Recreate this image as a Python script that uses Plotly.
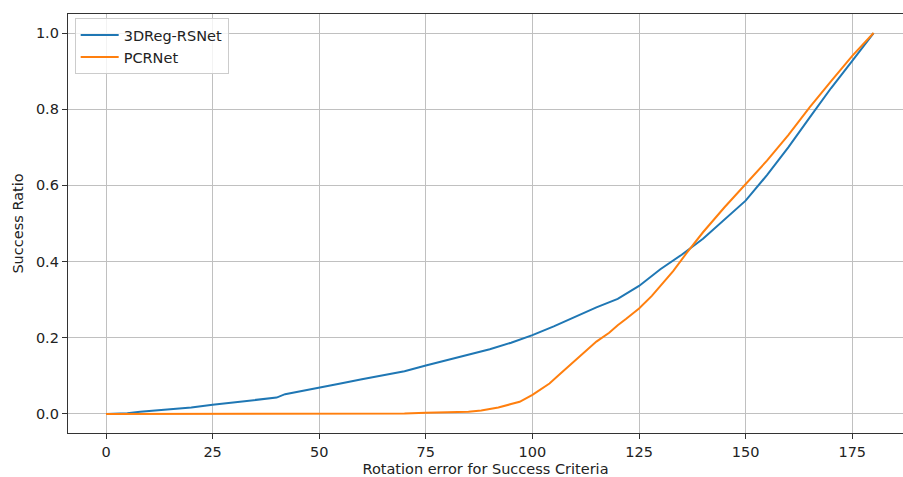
import plotly.graph_objects as go

# 3DReg-RSNet
rsnet_x = [0, 5, 8, 10, 15, 20, 25, 30, 35, 40, 42, 45, 50, 55, 60, 65, 70, 75, 80, 85, 90, 95,
           100, 105, 110, 115, 120, 125, 130, 135, 140, 145, 150, 155, 160, 165, 170, 175, 180]
rsnet_y = [0, 0.002, 0.006, 0.008, 0.012, 0.017, 0.024, 0.031, 0.036, 0.043, 0.052, 0.058, 0.07,
           0.08, 0.091, 0.101, 0.112, 0.127, 0.141, 0.155, 0.170, 0.187, 0.207, 0.23, 0.255, 0.28,
           0.302, 0.336, 0.38, 0.418, 0.46, 0.51, 0.56, 0.627, 0.70, 0.778, 0.855, 0.927, 1.0]

# PCRNet
pcr_x = [0, 10, 20, 30, 40, 50, 60, 65, 70, 75, 80, 85, 88, 90, 92, 95, 97, 100, 102, 104, 106,
         108, 110, 112, 115, 118, 120, 122, 125, 128, 130, 133, 136, 140, 145, 150, 155, 160, 165,
         170, 175, 180]
pcr_y = [0, 0, 0, 0, 0, 0, 0, 0.0005, 0.001, 0.003, 0.004, 0.006, 0.009, 0.012, 0.017, 0.026,
         0.032, 0.05, 0.064, 0.08, 0.1, 0.12, 0.141, 0.159, 0.19, 0.213, 0.233, 0.25, 0.277, 0.31,
         0.335, 0.375, 0.42, 0.477, 0.542, 0.604, 0.665, 0.732, 0.805, 0.873, 0.94, 1.0]

x_ticks = [0, 25, 50, 75, 100, 125, 150, 175]
y_ticks = [0.0, 0.2, 0.4, 0.6, 0.8, 1.0]
y_tick_labels = ["0.0", "0.2", "0.4", "0.6", "0.8", "1.0"]

fig = go.Figure()
fig.add_trace(go.Scatter(x=rsnet_x, y=rsnet_y, mode="lines", name="3DReg-RSNet",
                         line=dict(color="#1f77b4", width=2)))
fig.add_trace(go.Scatter(x=pcr_x, y=pcr_y, mode="lines", name="PCRNet",
                         line=dict(color="#ff7f0e", width=2)))

font = dict(family="DejaVu Sans", size=14.5, color="#222")
fig.update_layout(
    width=903, height=477,
    margin=dict(l=68, r=0, t=14, b=44, autoexpand=False),
    paper_bgcolor="white", plot_bgcolor="white",
    font=font,
    showlegend=True,
    legend=dict(x=0.008, y=0.99, xanchor="left", yanchor="top",
                bgcolor="rgba(255,255,255,0.8)", bordercolor="#cccccc", borderwidth=1,
                font=font, itemwidth=38, tracegroupgap=0),
)
fig.update_xaxes(
    range=[-8.91, 186.9], tickvals=x_ticks, ticktext=[str(v) for v in x_ticks],
    showgrid=True, gridcolor="#c0c0c0", gridwidth=1.2, automargin=False,
    showline=True, linecolor="#333", linewidth=1.3, mirror=True,
    ticks="outside", ticklen=5, tickcolor="#333", zeroline=False,
    title=dict(text="Rotation error for Success Criteria", standoff=7, font=font),
)
fig.update_yaxes(
    range=[-0.05, 1.05], tickvals=y_ticks, ticktext=y_tick_labels,
    showgrid=True, gridcolor="#c0c0c0", gridwidth=1.2, automargin=False,
    showline=True, linecolor="#333", linewidth=1.3,
    ticks="outside", ticklen=5, tickcolor="#333", zeroline=False,
    title=dict(text="Success Ratio", standoff=8, font=font),
)

fig.write_html(
    "out.html",
    config={"displayModeBar": False},
    post_script="document.body.style.margin='0';document.body.style.overflow='hidden';",
)
